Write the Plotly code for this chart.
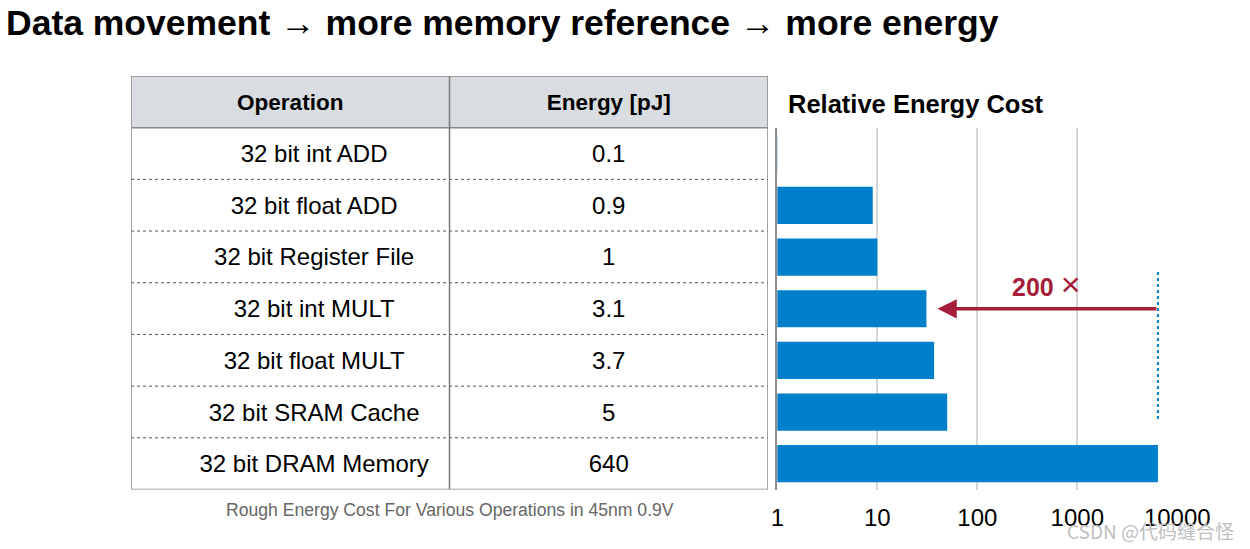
import math
import plotly.graph_objects as go

# ---------------- data ----------------
operations = ["32 bit int ADD", "32 bit float ADD", "32 bit Register File",
              "32 bit int MULT", "32 bit float MULT", "32 bit SRAM Cache",
              "32 bit DRAM Memory"]
energy_labels = ["0.1", "0.9", "1", "3.1", "3.7", "5", "640"]
relative_cost = [1, 9, 10, 31, 37, 50, 6400]
table_header = ["Operation", "Energy [pJ]"]
tick_values = [1, 10, 100, 1000, 10000]
tick_labels = ["1", "10", "100", "1000", "10000"]
arrow_tip_value = 40          # where the "200x" arrow ends
arrow_label = "<b>200</b> <span style='font-size:34px'>×</span>"

# ---------------- layout helpers ----------------
W, H = 1250, 549
def fx(p):
    return p / W
def fy(p):
    return 1 - p / H

rows = list(range(len(operations)))
TXT_DY = 0.05                 # small baseline correction for table text
BLUE = "#007FCB"
RED = "#A41E3A"

fig = go.Figure()

# bar chart (relative energy cost, log scale)
fig.add_trace(go.Bar(
    x=relative_cost, y=rows, orientation="h",
    marker=dict(color=BLUE, line=dict(width=0)),
    width=0.72, xaxis="x", yaxis="y", hoverinfo="x",
))

# dotted reference line at the DRAM value
fig.add_trace(go.Scatter(
    x=[relative_cost[-1], relative_cost[-1]], y=[2.29, 5.16],
    mode="lines", line=dict(color=BLUE, width=2, dash="dot"),
    xaxis="x", yaxis="y", hoverinfo="skip",
))

# table text
fig.add_trace(go.Scatter(
    x=[0.5, 1.5], y=[-1 + TXT_DY, -1 + TXT_DY], mode="text",
    text=["<b>%s</b>" % h for h in table_header],
    textfont=dict(family="Liberation Sans", size=22.5, color="black"),
    xaxis="x2", yaxis="y2", hoverinfo="skip",
))
fig.add_trace(go.Scatter(
    x=[0.575] * len(operations), y=[r + TXT_DY for r in rows], mode="text",
    text=operations,
    textfont=dict(family="Liberation Sans", size=24, color="black"),
    xaxis="x2", yaxis="y2", hoverinfo="skip",
))
fig.add_trace(go.Scatter(
    x=[1.5] * len(energy_labels), y=[r + TXT_DY for r in rows], mode="text",
    text=energy_labels,
    textfont=dict(family="Liberation Sans", size=24, color="black"),
    xaxis="x2", yaxis="y2", hoverinfo="skip",
))

shapes = []
# header fill
shapes.append(dict(type="rect", xref="x2", yref="y2", x0=0, x1=2, y0=-1.5, y1=-0.5,
                   fillcolor="#D9DDE1", line=dict(width=0), layer="below"))
# header bottom line
shapes.append(dict(type="line", xref="x2", yref="y2", x0=0, x1=2, y0=-0.5, y1=-0.5,
                   line=dict(color="#8a8a8a", width=1.5)))
# dotted row separators
for i in range(len(operations) - 1):
    shapes.append(dict(type="line", xref="x2", yref="y2", x0=0, x1=2,
                       y0=i + 0.5, y1=i + 0.5,
                       line=dict(color="#555555", width=1, dash="dot")))
# column divider
shapes.append(dict(type="line", xref="x2", yref="y2", x0=1, x1=1, y0=-1.5, y1=6.5,
                   line=dict(color="#7a7a7a", width=1.5)))
# outer border
shapes.append(dict(type="rect", xref="x2", yref="y2", x0=0, x1=2, y0=-1.5, y1=6.5,
                   line=dict(color="#8a8a8a", width=1.5)))

annotations = [
    dict(text="<b>Data movement → more memory reference → more energy</b>",
         xref="paper", yref="paper", x=fx(4), y=fy(23), xanchor="left", yanchor="middle",
         showarrow=False, font=dict(family="Liberation Sans", size=35.5, color="black")),
    dict(text="<b>Relative Energy Cost</b>",
         xref="paper", yref="paper", x=fx(786), y=fy(104), xanchor="left", yanchor="middle",
         showarrow=False, font=dict(family="Liberation Sans", size=25.5, color="black")),
    dict(text="Rough Energy Cost For Various Operations in 45nm 0.9V",
         xref="paper", yref="paper", x=fx(450), y=fy(510), xanchor="center", yanchor="middle",
         showarrow=False, font=dict(family="Liberation Sans", size=17.6, color="#666666")),
    dict(text=arrow_label,
         xref="paper", yref="paper", x=fx(1046), y=fy(284), xanchor="center", yanchor="middle",
         showarrow=False, font=dict(family="Liberation Sans", size=25, color=RED)),
    dict(text="", xref="x", yref="y", x=math.log10(arrow_tip_value), y=3,
         axref="x", ayref="y", ax=math.log10(relative_cost[-1]), ay=3,
         showarrow=True, arrowhead=2, arrowsize=1.1, arrowwidth=3.5, arrowcolor=RED,
         standoff=0, startstandoff=0),
    dict(text="CSDN @代码缝合怪",
         xref="paper", yref="paper", x=fx(1236), y=fy(530), xanchor="right", yanchor="middle",
         showarrow=False, font=dict(family="Noto Sans CJK SC", size=19, color="#c0c0c0")),
]

fig.update_layout(
    width=W, height=H, autosize=False,
    margin=dict(l=0, r=0, t=0, b=0, pad=0, autoexpand=False),
    paper_bgcolor="white", plot_bgcolor="white",
    showlegend=False,
    shapes=shapes, annotations=annotations,
    xaxis=dict(type="log", range=[0, 4.002], domain=[fx(777.3), fx(1177.5)],
               tickmode="array", tickvals=tick_values, ticktext=tick_labels,
               showgrid=True, gridcolor="#d6d6d6", gridwidth=1.5,
               zeroline=False, showline=False, ticks="",
               tickfont=dict(family="Liberation Sans", size=24, color="black"),
               ticklabelstandoff=11, anchor="y", fixedrange=True, automargin=False),
    yaxis=dict(range=[6.5, -0.5], domain=[fy(489.5), fy(128)],
               showticklabels=False, showgrid=False, zeroline=False,
               showline=True, linecolor="#8c8c8c", linewidth=2, ticks="",
               anchor="x", fixedrange=True, automargin=False),
    xaxis2=dict(range=[0, 2], domain=[fx(131), fx(768)], visible=False,
                anchor="y2", fixedrange=True),
    yaxis2=dict(range=[6.5, -1.5], domain=[fy(489.5), fy(76)], visible=False,
                anchor="x2", fixedrange=True),
)

fig.write_html(
    "out.html",
    config={"responsive": False, "displayModeBar": False},
    post_script="document.body.style.margin='0';document.body.style.overflow='hidden';",
)
